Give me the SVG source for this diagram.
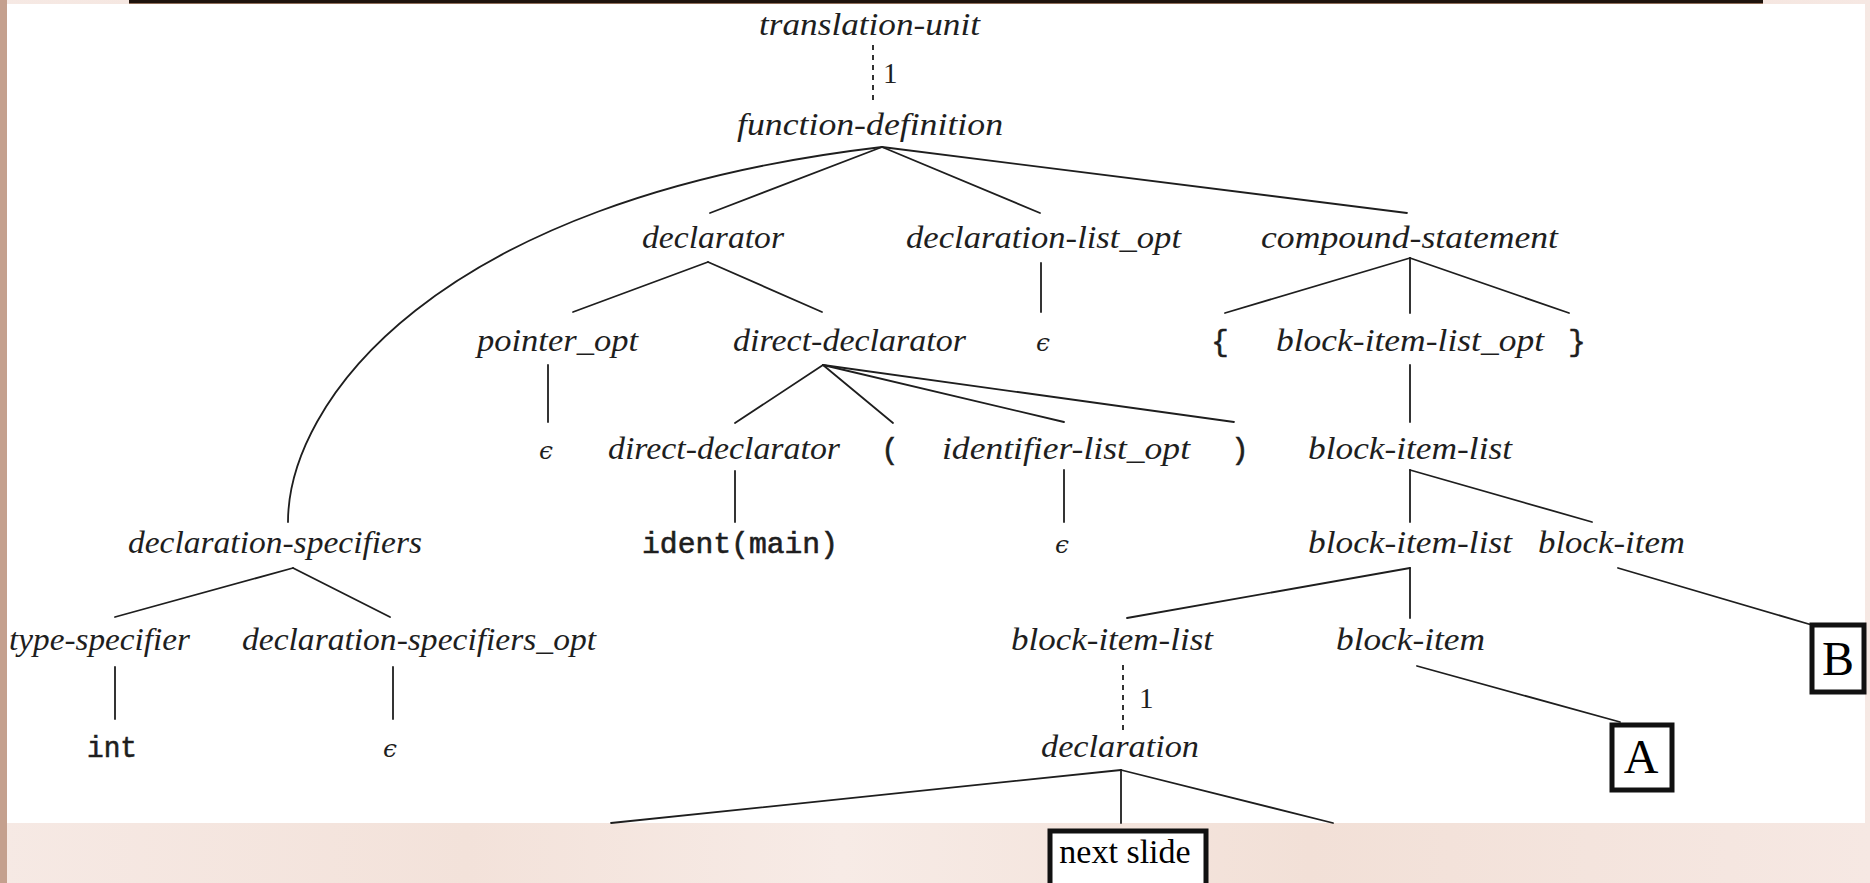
<svg xmlns="http://www.w3.org/2000/svg" width="1870" height="883" viewBox="0 0 1870 883">
<defs>
<style>
.t { font-family: "Liberation Serif", "DejaVu Serif", serif; font-style: italic; font-size: 32px; fill: #1e1e1e; }
.e { font-family: "DejaVu Serif", "Liberation Serif", serif; font-style: italic; font-size: 25px; fill: #1e1e1e; text-anchor: middle; }
.m { font-family: "Liberation Mono", "DejaVu Sans Mono", monospace; font-size: 29px; fill: #1e1e1e; stroke: #1e1e1e; stroke-width: 0.6; }
.mc { text-anchor: middle; }
.n { font-family: "Liberation Serif", "DejaVu Serif", serif; font-size: 29px; fill: #1e1e1e; }
.lbl { font-family: "Liberation Serif", "DejaVu Serif", serif; fill: #000; text-anchor: middle; }
.box { fill: #ffffff; stroke: #111; stroke-width: 5; }
#connectors line, #connectors path { stroke: #1e1e1e; stroke-width: 1.8; fill: none; stroke-linecap: round; }
#connectors .d { stroke-dasharray: 5 5; stroke-linecap: butt; }
</style>
<linearGradient id="marble" x1="0" y1="0" x2="1" y2="0">
<stop offset="0" stop-color="#f6e9e4"/>
<stop offset="0.25" stop-color="#f3e2da"/>
<stop offset="0.45" stop-color="#f7ebe6"/>
<stop offset="0.7" stop-color="#f2e0d7"/>
<stop offset="1" stop-color="#f6e8e3"/>
</linearGradient>
</defs>

<!-- background -->
<rect x="0" y="0" width="1870" height="883" fill="url(#marble)"/>
<rect x="0" y="0" width="7" height="883" fill="#c4a08e"/>
<rect x="7" y="4" width="1858" height="819" fill="#ffffff"/>
<rect x="129" y="0" width="1634" height="3" fill="#1e130c"/>
<rect x="129" y="3" width="1634" height="1" fill="#8d6c58"/>

<g id="connectors">
<line class="d" x1="873" y1="45" x2="873" y2="102"/>
<line x1="882" y1="147" x2="710" y2="213"/>
<line x1="882" y1="147" x2="1040" y2="213"/>
<line x1="882" y1="147" x2="1407" y2="213"/>
<path d="M882,147 C430,200 288,405 288,522"/>
<line x1="708" y1="262" x2="573" y2="312"/>
<line x1="708" y1="262" x2="822" y2="312"/>
<line x1="1041" y1="263" x2="1041" y2="312"/>
<line x1="1410" y1="258" x2="1225" y2="313"/>
<line x1="1410" y1="258" x2="1410" y2="313"/>
<line x1="1410" y1="258" x2="1569" y2="313"/>
<line x1="548" y1="365" x2="548" y2="422"/>
<line x1="823" y1="365" x2="735" y2="423"/>
<line x1="823" y1="365" x2="893" y2="423"/>
<line x1="823" y1="365" x2="1064" y2="422"/>
<line x1="823" y1="365" x2="1234" y2="422"/>
<line x1="1410" y1="365" x2="1410" y2="422"/>
<line x1="735" y1="471" x2="735" y2="522"/>
<line x1="1064" y1="470" x2="1064" y2="522"/>
<line x1="1410" y1="470" x2="1410" y2="522"/>
<line x1="1410" y1="470" x2="1592" y2="522"/>
<line x1="293" y1="568" x2="115" y2="617"/>
<line x1="293" y1="568" x2="390" y2="617"/>
<line x1="1410" y1="568" x2="1127" y2="618"/>
<line x1="1410" y1="568" x2="1410" y2="618"/>
<line x1="1618" y1="568" x2="1812" y2="625"/>
<line x1="115" y1="667" x2="115" y2="719"/>
<line x1="393" y1="667" x2="393" y2="719"/>
<line class="d" x1="1123" y1="665" x2="1123" y2="730"/>
<line x1="1417" y1="666" x2="1620" y2="722"/>
<line x1="1121" y1="770" x2="611" y2="823"/>
<line x1="1121" y1="770" x2="1121" y2="823"/>
<line x1="1121" y1="770" x2="1333" y2="823"/>
</g>

<g id="n-translation-unit"><text class="t" x="759" y="35" textLength="221" lengthAdjust="spacingAndGlyphs">translation-unit</text></g>
<g id="n-1a"><text class="n" x="883" y="83">1</text></g>
<g id="n-function-definition"><text class="t" x="737" y="135" textLength="266" lengthAdjust="spacingAndGlyphs">function-definition</text></g>

<g id="n-declarator"><text class="t" x="642" y="248" textLength="142" lengthAdjust="spacingAndGlyphs">declarator</text></g>
<g id="n-declaration-list-opt"><text class="t" x="906" y="248" textLength="275" lengthAdjust="spacingAndGlyphs">declaration-list_opt</text></g>
<g id="n-compound-statement"><text class="t" x="1261" y="248" textLength="297" lengthAdjust="spacingAndGlyphs">compound-statement</text></g>

<g id="n-pointer-opt"><text class="t" x="477" y="351" textLength="161" lengthAdjust="spacingAndGlyphs">pointer_opt</text></g>
<g id="n-direct-declarator"><text class="t" x="733" y="351" textLength="233" lengthAdjust="spacingAndGlyphs">direct-declarator</text></g>
<g id="n-eps1"><text class="e" x="1043" y="351">ϵ</text></g>
<g id="n-lbrace"><text class="m mc" x="1220" y="351">{</text></g>
<g id="n-block-item-list-opt"><text class="t" x="1276" y="351" textLength="268" lengthAdjust="spacingAndGlyphs">block-item-list_opt</text></g>
<g id="n-rbrace"><text class="m mc" x="1577" y="351">}</text></g>

<g id="n-eps2"><text class="e" x="546" y="459">ϵ</text></g>
<g id="n-direct-declarator2"><text class="t" x="608" y="459" textLength="232" lengthAdjust="spacingAndGlyphs">direct-declarator</text></g>
<g id="n-lparen"><text class="m mc" x="890" y="459">(</text></g>
<g id="n-identifier-list-opt"><text class="t" x="942" y="459" textLength="248" lengthAdjust="spacingAndGlyphs">identifier-list_opt</text></g>
<g id="n-rparen"><text class="m mc" x="1240" y="459">)</text></g>
<g id="n-block-item-list1"><text class="t" x="1308" y="459" textLength="204" lengthAdjust="spacingAndGlyphs">block-item-list</text></g>

<g id="n-declaration-specifiers"><text class="t" x="128" y="553" textLength="294" lengthAdjust="spacingAndGlyphs">declaration-specifiers</text></g>
<g id="n-ident-main"><text class="m" x="642" y="553" textLength="196" lengthAdjust="spacingAndGlyphs">ident(main)</text></g>
<g id="n-eps3"><text class="e" x="1062" y="553">ϵ</text></g>
<g id="n-block-item-list2"><text class="t" x="1308" y="553" textLength="204" lengthAdjust="spacingAndGlyphs">block-item-list</text></g>
<g id="n-block-item1"><text class="t" x="1538" y="553" textLength="147" lengthAdjust="spacingAndGlyphs">block-item</text></g>

<g id="n-type-specifier"><text class="t" x="9" y="650" textLength="181" lengthAdjust="spacingAndGlyphs">type-specifier</text></g>
<g id="n-declaration-specifiers-opt"><text class="t" x="242" y="650" textLength="354" lengthAdjust="spacingAndGlyphs">declaration-specifiers_opt</text></g>
<g id="n-block-item-list3"><text class="t" x="1011" y="650" textLength="202" lengthAdjust="spacingAndGlyphs">block-item-list</text></g>
<g id="n-block-item2"><text class="t" x="1336" y="650" textLength="149" lengthAdjust="spacingAndGlyphs">block-item</text></g>
<g id="n-B"><rect class="box" x="1812" y="625" width="52" height="67"/><text class="lbl" x="1838" y="675" font-size="48">B</text></g>
<g id="n-1b"><text class="n" x="1139" y="708">1</text></g>

<g id="n-int"><text class="m" x="87" y="757" textLength="50" lengthAdjust="spacingAndGlyphs">int</text></g>
<g id="n-eps4"><text class="e" x="390" y="757">ϵ</text></g>
<g id="n-declaration"><text class="t" x="1041" y="757" textLength="158" lengthAdjust="spacingAndGlyphs">declaration</text></g>
<g id="n-A"><rect class="box" x="1612" y="725" width="60" height="65"/><text class="lbl" x="1641" y="773" font-size="48">A</text></g>

<g id="n-next-slide"><rect class="box" x="1050" y="831" width="156" height="56"/><text class="lbl" x="1125" y="863" font-size="34">next slide</text></g>
</svg>
